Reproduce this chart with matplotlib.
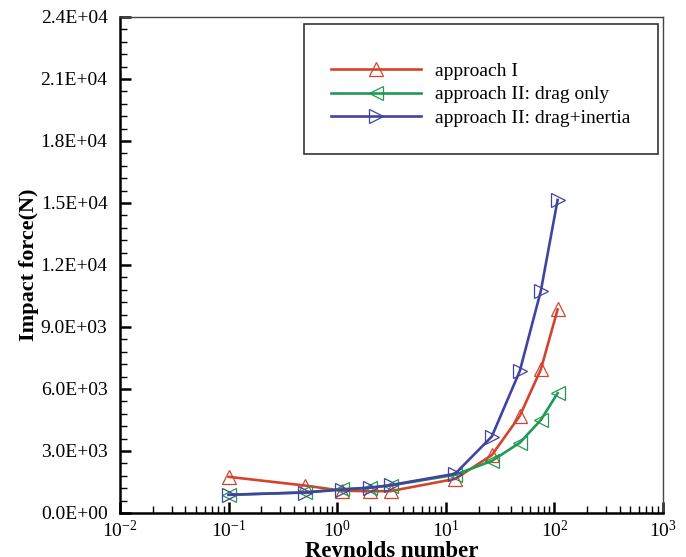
import matplotlib.pyplot as plt
import numpy as np
from matplotlib.ticker import FuncFormatter, LogLocator, MultipleLocator, NullFormatter
from matplotlib.patches import Rectangle

plt.rcParams['font.family'] = ['Liberation Serif', 'DejaVu Serif']
plt.rcParams['mathtext.fontset'] = 'custom'
plt.rcParams['mathtext.rm'] = 'Liberation Serif'
plt.rcParams['mathtext.it'] = 'Liberation Serif'
plt.rcParams['axes.unicode_minus'] = False

# Reynolds numbers
re = [0.1, 0.5, 1.1, 2.0, 3.1, 12.2, 26.5, 48, 75, 107]
# impact force (N)
force_1 = [1750, 1330, 1080, 1050, 1060, 1650, 2800, 4700, 6950, 9850]
force_drag = [880, 1000, 1150, 1230, 1330, 1850, 2520, 3400, 4500, 5800]
force_inertia = [880, 990, 1130, 1220, 1350, 1900, 3700, 6870, 10750, 15150]
labels = ['approach I', 'approach II: drag only', 'approach II: drag+inertia']

c_red = '#d2452c'
c_green = '#1f9a55'
c_blue = '#4044a0'

fig = plt.figure(figsize=(6.86, 5.57), dpi=100)
ax = fig.add_axes([0.175, 0.079, 0.7915, 0.8905])

ax.plot(re, force_1, color=c_red, lw=1.9, marker='^', ms=10, mfc='none', mec=c_red, mew=0.9, label=labels[0])
ax.plot(re, force_drag, color=c_green, lw=1.9, marker='<', ms=10, mfc='none', mec=c_green, mew=0.9, label=labels[1])
ax.plot(re, force_inertia, color=c_blue, lw=1.9, marker='>', ms=10, mfc='none', mec=c_blue, mew=0.9, label=labels[2])

ax.set_xscale('log')
ax.set_xlim(1e-2, 1e3)
ax.set_ylim(0, 24000)
ax.yaxis.set_major_locator(MultipleLocator(3000))
ax.yaxis.set_minor_locator(MultipleLocator(600))
ax.yaxis.set_major_formatter(FuncFormatter(lambda v, p: '%.1E' % v))
ax.xaxis.set_major_locator(LogLocator(base=10, numticks=10))
ax.xaxis.set_minor_locator(LogLocator(base=10, subs=np.arange(2, 10), numticks=20))
ax.xaxis.set_minor_formatter(NullFormatter())

ax.tick_params(which='both', direction='in', top=False, right=False, labelsize=14)
ax.tick_params(which='major', length=8, width=1.8)
ax.tick_params(which='minor', length=5, width=1.0)
ax.tick_params(axis='x', pad=5)
ax.tick_params(axis='y', pad=9)

for s in ['left', 'bottom']:
    ax.spines[s].set_linewidth(1.8)
for s in ['top', 'right']:
    ax.spines[s].set_linewidth(1.0)
    ax.spines[s].set_color('#444444')

ax.set_xlabel('Reynolds number', fontsize=16.5, fontweight='bold', labelpad=0)
ax.set_ylabel('Impact force(N)', fontsize=16, fontweight='bold', labelpad=1)

# legend box
ax.add_patch(Rectangle((0.338, 0.724), 0.652, 0.262, transform=ax.transAxes,
                       fill=False, ec='#333333', lw=1.2, zorder=5))
ax.legend(loc='upper left', bbox_to_anchor=(0.375, 0.925), frameon=False, fontsize=14,
          handlelength=4.6, handletextpad=0.75, labelspacing=0.32, borderaxespad=0)

fig.savefig('out.png', dpi=100)
